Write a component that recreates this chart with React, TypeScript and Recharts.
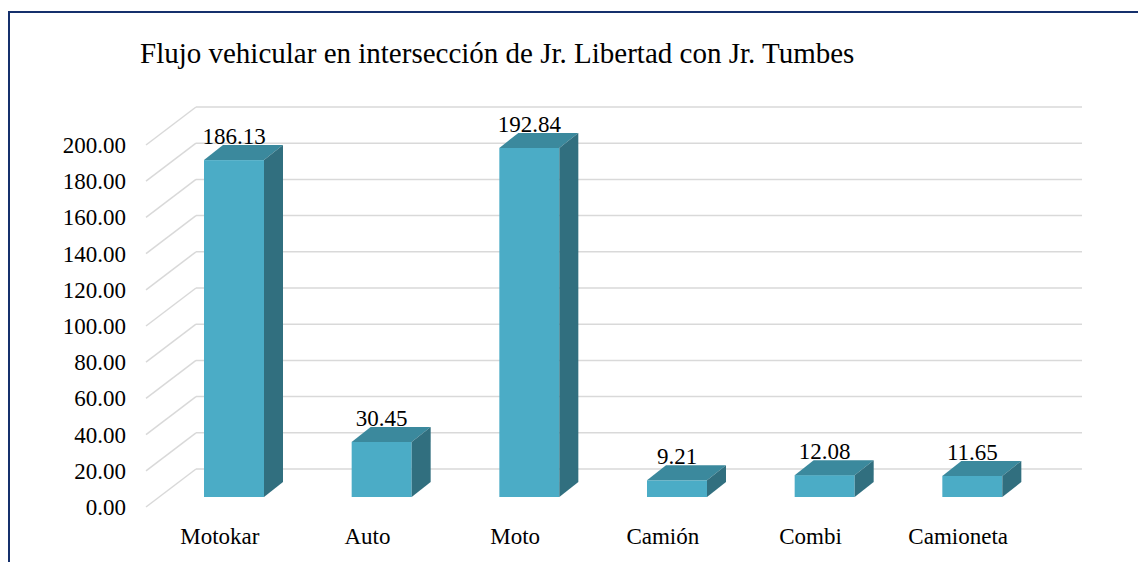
import React from 'react'
import { BarChart, Bar, XAxis, YAxis, CartesianGrid, LabelList } from 'recharts'

const categories = ['Motokar', 'Auto', 'Moto', 'Camión', 'Combi', 'Camioneta']
const flujo = [186.13, 30.45, 192.84, 9.21, 12.08, 11.65]
const yTicks = [0, 20, 40, 60, 80, 100, 120, 140, 160, 180, 200]

const data = categories.map((name, i) => ({ name, value: flujo[i] }))

const FONT = '"Liberation Serif", "Times New Roman", serif'
const FRONT = '#4BACC6'
const TOP = '#3B899D'
const SIDE = '#316F7F'
const GRID = '#D9D9D9'

// depth offsets relative to the bar plane
const FRONT_DX = -14
const FRONT_DY = 10
const BACK_DX = 36
const BACK_DY = -28
const BAR_DX = 19
const BAR_DY = -15

// eslint-disable-next-line @typescript-eslint/no-explicit-any
const Box = (props: any) => {
    const { x, y, width: w, height: h } = props
    return (
        <g>
            <rect x={x} y={y} width={w} height={h} fill={FRONT} />
            <polygon
                points={`${x},${y} ${x + BAR_DX},${y + BAR_DY} ${x + w + BAR_DX},${y + BAR_DY} ${x + w},${y}`}
                fill={TOP}
            />
            <polygon
                points={`${x + w},${y} ${x + w + BAR_DX},${y + BAR_DY} ${x + w + BAR_DX},${y + h + BAR_DY} ${x + w},${y + h}`}
                fill={SIDE}
            />
        </g>
    )
}

// eslint-disable-next-line @typescript-eslint/no-explicit-any
const GridLine = (props: any) => {
    const { x1, x2, y1 } = props
    return (
        <g key={`g-${y1}`}>
            <line
                x1={x1 + FRONT_DX}
                y1={y1 + FRONT_DY}
                x2={x1 + BACK_DX}
                y2={y1 + BACK_DY}
                stroke={GRID}
                strokeWidth={1.5}
            />
            <line
                x1={x1 + BACK_DX}
                y1={y1 + BACK_DY}
                x2={x2 + BACK_DX}
                y2={y1 + BACK_DY}
                stroke={GRID}
                strokeWidth={1.5}
            />
        </g>
    )
}

// eslint-disable-next-line @typescript-eslint/no-explicit-any
const YTick = ({ y, payload }: any) => (
    <text x={126} y={y + FRONT_DY + 8} textAnchor="end" fontSize={23} style={{ fontFamily: FONT }} fill="#000">
        {Number(payload.value).toFixed(2)}
    </text>
)

// eslint-disable-next-line @typescript-eslint/no-explicit-any
const XTick = ({ x, payload }: any) => (
    <text x={x + FRONT_DX} y={544} textAnchor="middle" fontSize={23} style={{ fontFamily: FONT }} fill="#000">
        {payload.value}
    </text>
)

// eslint-disable-next-line @typescript-eslint/no-explicit-any
const ValueLabel = (props: any) => {
    const { x, y, width, value } = props
    return (
        <text x={x + width / 2} y={y - 16} textAnchor="middle" fontSize={23} style={{ fontFamily: FONT }} fill="#000">
            {Number(value).toFixed(2)}
        </text>
    )
}

export default function App() {
    return (
        <div style={{ position: 'absolute', left: 0, top: 0, width: 1138, height: 562, background: '#fff', overflow: 'hidden' }}>
            <BarChart
                width={1138}
                height={562}
                data={data}
                margin={{ top: 135, right: 92, left: 60, bottom: 0 }}
            >
                <CartesianGrid vertical={false} horizontal={GridLine} />
                <XAxis
                    dataKey="name"
                    axisLine={false}
                    tickLine={false}
                    tick={<XTick />}
                    interval={0}
                    height={65}
                />
                <YAxis
                    domain={[0, 200]}
                    ticks={yTicks}
                    axisLine={false}
                    tickLine={false}
                    tick={<YTick />}
                    width={100}
                />
                <Bar dataKey="value" barSize={60} shape={<Box />} isAnimationActive={false}>
                    <LabelList dataKey="value" content={<ValueLabel />} />
                </Bar>
            </BarChart>
            <svg width={1138} height={562} style={{ position: 'absolute', left: 0, top: 0, pointerEvents: 'none' }}>
                <rect x={9} y={12} width={1200} height={600} fill="none" stroke="#15306C" strokeWidth={2} />
                <text x={140} y={63} fontSize={29} style={{ fontFamily: FONT }} fill="#000">
                    Flujo vehicular en intersección de Jr. Libertad con Jr. Tumbes
                </text>
            </svg>
        </div>
    )
}
